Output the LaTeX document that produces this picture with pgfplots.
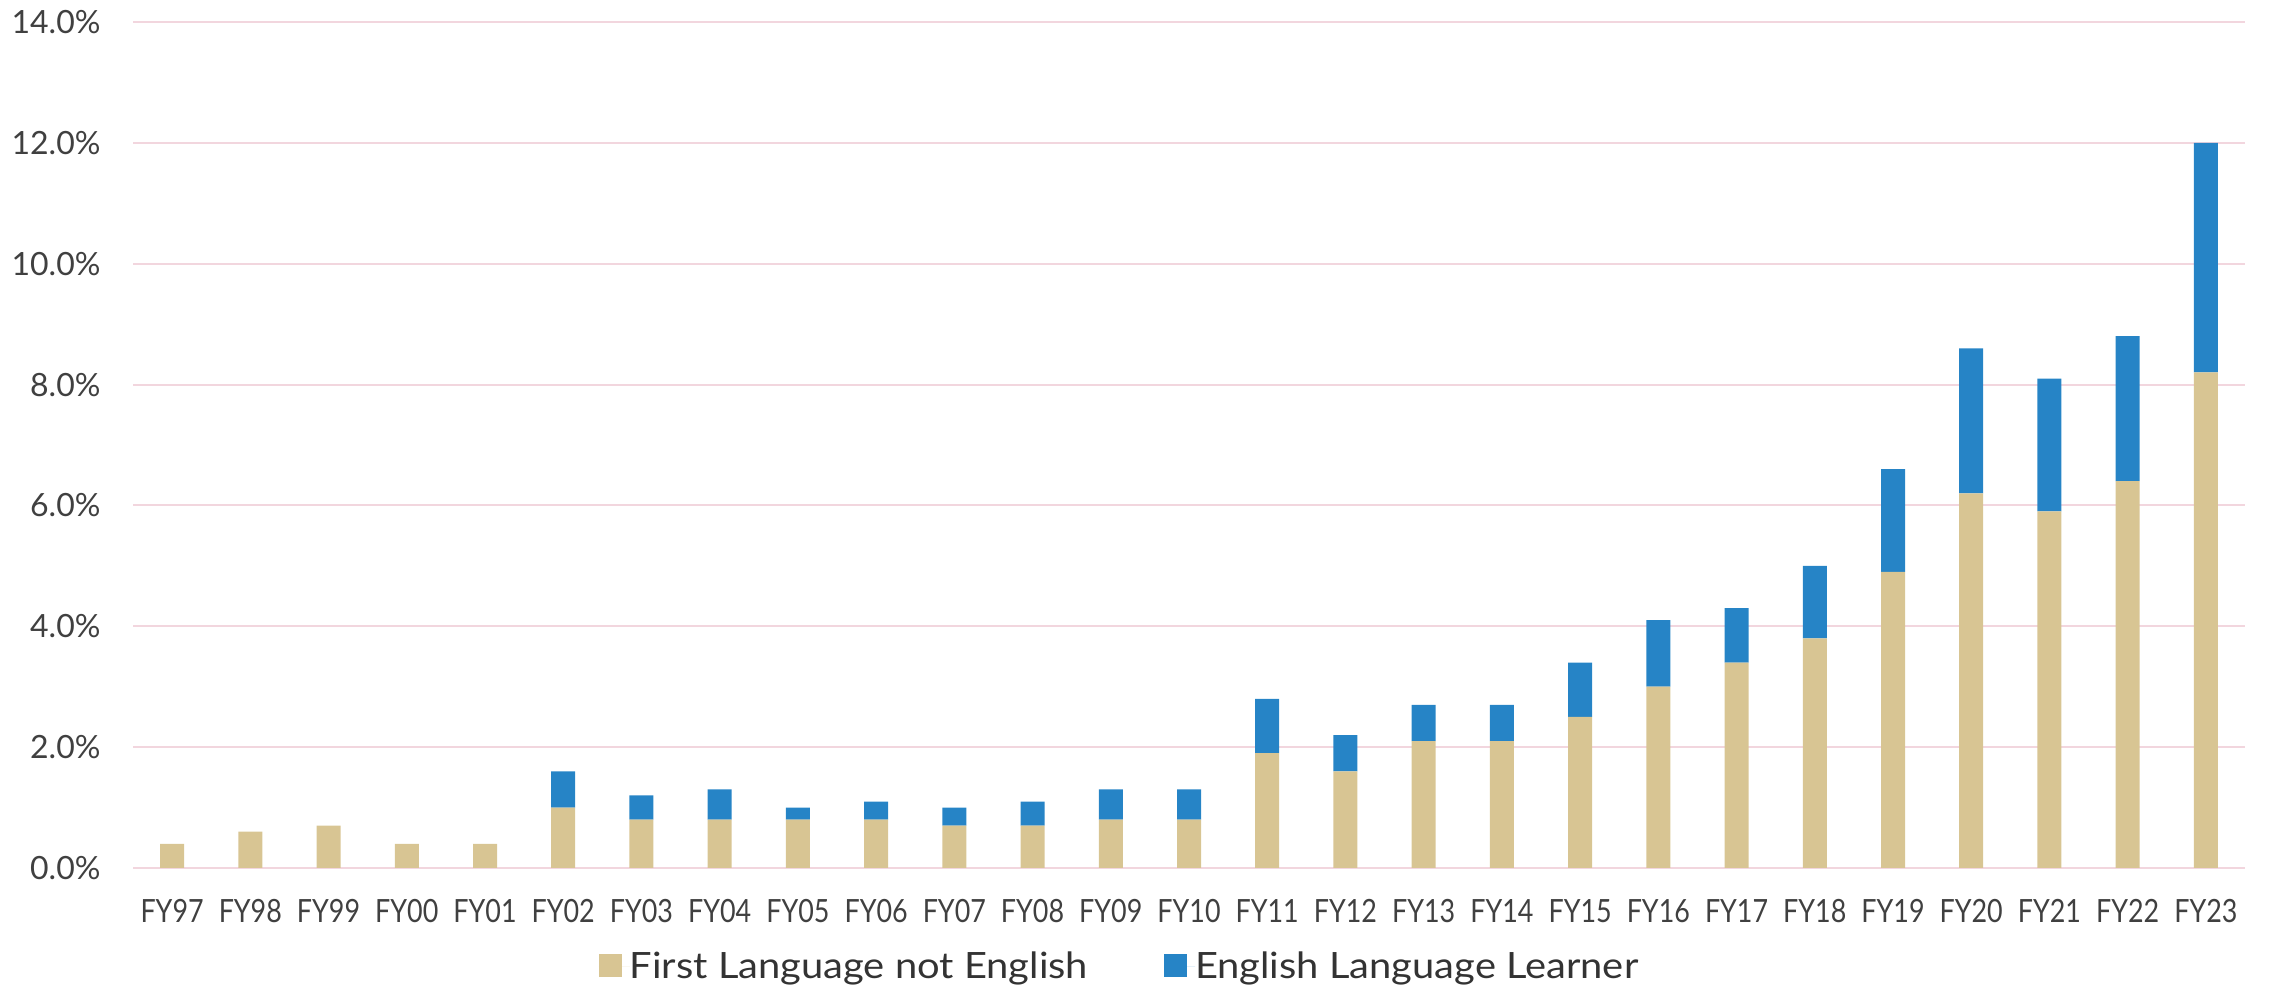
\documentclass[border=0pt]{standalone}
\usepackage{pgfplots}
\pgfplotsset{compat=1.18}
\usepackage{pgfplotstable}
\usepackage{fontspec}
\setmainfont{Lato}
\newfontfamily\xtickfont[FakeStretch=0.84]{Lato}
\newfontfamily\legendfont[FakeStretch=1.1]{Lato}

\definecolor{flne}{RGB}{216,197,147}
\definecolor{ell}{RGB}{38,132,198}
\definecolor{gridpink}{RGB}{242,214,222}
\definecolor{labelgray}{RGB}{64,64,64}
\definecolor{legendgray}{RGB}{51,51,51}

% share of students (percent): first language not English / English language learner
\pgfplotstableread{
idx flne ell
0  0.4 0.0
1  0.6 0.0
2  0.7 0.0
3  0.4 0.0
4  0.4 0.0
5  1.0 0.6
6  0.8 0.4
7  0.8 0.5
8  0.8 0.2
9  0.8 0.3
10 0.7 0.3
11 0.7 0.4
12 0.8 0.5
13 0.8 0.5
14 1.9 0.9
15 1.6 0.6
16 2.1 0.6
17 2.1 0.6
18 2.5 0.9
19 3.0 1.1
20 3.4 0.9
21 3.8 1.2
22 4.9 1.7
23 6.2 2.4
24 5.9 2.2
25 6.4 2.4
26 8.2 3.8
}\shares

\begin{document}
\begin{tikzpicture}
\begin{axis}[
  name=ax,
  width=844.8pt, height=338.4pt, scale only axis,
  ybar stacked, bar width=9.6pt,
  xmin=-0.5, xmax=26.5, ymin=0, ymax=14,
  xtick={0,...,26},
  xticklabels={FY97,FY98,FY99,FY00,FY01,FY02,FY03,FY04,FY05,FY06,FY07,FY08,FY09,FY10,FY11,FY12,FY13,FY14,FY15,FY16,FY17,FY18,FY19,FY20,FY21,FY22,FY23},
  ytick={0,2,...,14},
  yticklabel={\pgfmathprintnumber[fixed,fixed zerofill,precision=1]{\tick}\%},
  /pgf/number format/assume math mode=true,
  ymajorgrids,
  grid style={gridpink, line width=0.8pt},
  axis line style={draw=none},
  major tick length=0pt,
  tick label style={font=\fontsize{12.8}{15}\selectfont, text=labelgray, inner sep=0pt},
  xticklabel style={font=\xtickfont\fontsize{12.8}{15}\selectfont, yshift=-12.4pt},
  yticklabel style={xshift=-12.8pt},
  legend columns=2,
  legend image code/.code={%
    \path (0pt,0pt) -- (12.4pt,0pt);
    \fill[#1] (0pt,-4.0pt) rectangle (9.2pt,5.2pt);},
  legend style={
    at={(axis description cs:0.2206,-0.117)}, anchor=west,
    draw=none, fill=none, inner sep=0pt, outer sep=0pt,
    font=\legendfont\fontsize{14.5}{17}\selectfont, text=legendgray,
    nodes={inner sep=0pt, text depth=0.15em},
    /tikz/every even column/.append style={column sep=30.4pt}},
]
\addplot[fill=flne, draw=none] table[x=idx, y=flne] {\shares};
\addlegendentry{First Language not English}
\addplot[fill=ell, draw=none] table[x=idx, y=ell] {\shares};
\addlegendentry{English Language Learner}
\end{axis}
\pgfresetboundingbox
\path[use as bounding box] ([shift={(-53.2pt,-48pt)}]ax.south west) rectangle ([shift={(10.8pt,8.8pt)}]ax.north east);
\end{tikzpicture}
\end{document}
